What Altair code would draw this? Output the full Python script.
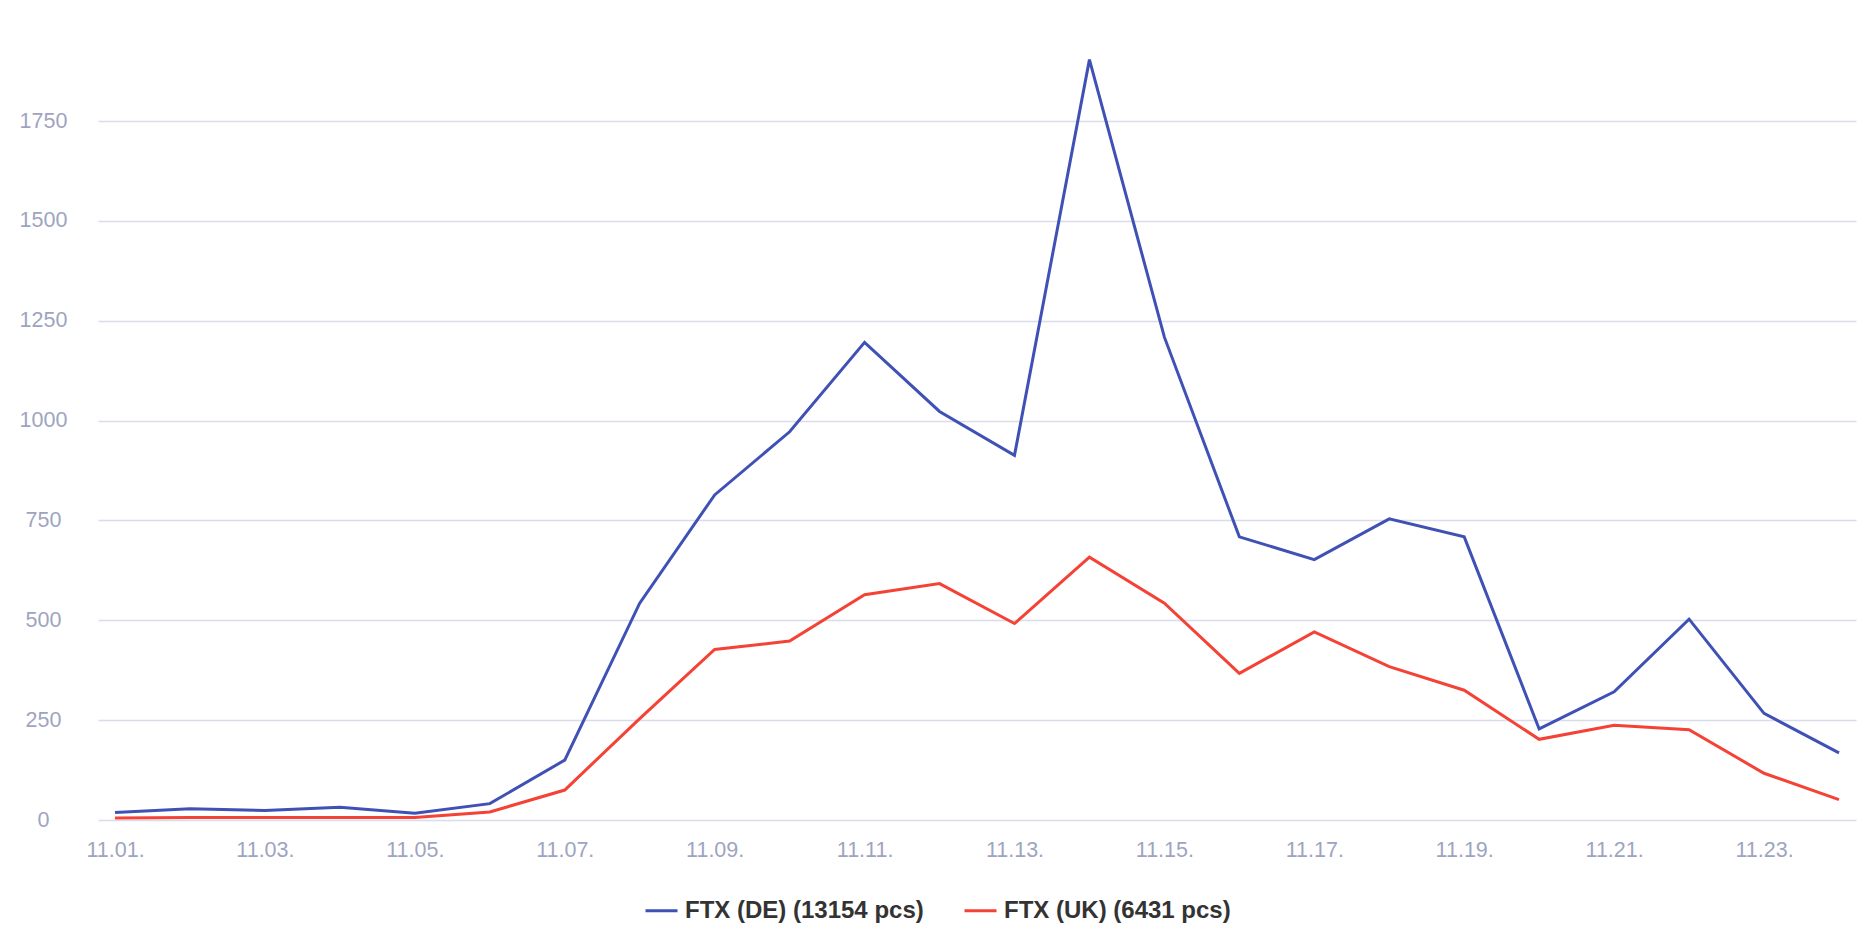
import altair as alt
import pandas as pd

days = ["11.01.", "11.02.", "11.03.", "11.04.", "11.05.", "11.06.", "11.07.", "11.08.",
        "11.09.", "11.10.", "11.11.", "11.12.", "11.13.", "11.14.", "11.15.", "11.16.",
        "11.17.", "11.18.", "11.19.", "11.20.", "11.21.", "11.22.", "11.23.", "11.24."]
de_values = [19, 28, 24, 32, 17, 41, 150, 543, 814, 972, 1196, 1023, 913, 1904, 1209, 709,
             652, 754, 709, 228, 321, 503, 267, 168]
uk_values = [5, 6, 6, 6, 6, 20, 75, 254, 427, 448, 564, 592, 492, 658, 543, 367,
             471, 384, 325, 202, 237, 226, 117, 51]
series_names = ["FTX (DE) (13154 pcs)", "FTX (UK) (6431 pcs)"]
series_colors = ["#3f51b5", "#f44336"]
x_tick_labels = days[::2]
y_ticks = [0, 250, 500, 750, 1000, 1250, 1500, 1750]

rows = []
for i, d in enumerate(days):
    rows.append({"day": d, "series": series_names[0], "value": de_values[i], "order": 0})
    rows.append({"day": d, "series": series_names[1], "value": uk_values[i], "order": 1})
df = pd.DataFrame(rows)

FONT = "Liberation Sans"
LABEL = "#9ea4bf"
GRID = "#d9dcea"

chart = alt.Chart(df).mark_line(strokeWidth=3).encode(
    x=alt.X("day:O", sort=days,
            scale=alt.Scale(type="point", padding=0.227),
            axis=alt.Axis(title=None, values=x_tick_labels, labelAngle=0, ticks=False,
                          tickSize=0, domain=False, grid=False, labelPadding=19,
                          labelFontSize=21.5, labelColor=LABEL, labelFont=FONT)),
    y=alt.Y("value:Q", scale=alt.Scale(domain=[0, 1908], nice=False),
            axis=alt.Axis(title=None, values=y_ticks, format="d", ticks=False, tickSize=0,
                          domain=False, grid=True, gridColor=GRID, gridWidth=1.3,
                          labelAlign="center", labelBaseline="middle", labelPadding=55,
                          labelFontSize=21.5, labelColor=LABEL, labelFont=FONT)),
    color=alt.Color("series:N",
                    scale=alt.Scale(domain=series_names, range=series_colors),
                    legend=alt.Legend(title=None, orient="none", legendX=546, legendY=835,
                                      direction="horizontal", symbolType="stroke",
                                      symbolSize=1024, symbolStrokeWidth=3,
                                      labelFont=FONT, labelFontSize=24, labelFontWeight="bold",
                                      labelColor="#333333", labelOffset=6, labelLimit=500,
                                      columnPadding=34)),
    order=alt.Order("order:Q"),
).properties(
    width=1758, height=762,
    background="white",
    autosize=alt.AutoSizeParams(type="none"),
    padding={"left": 90, "top": 50, "right": 12, "bottom": 120},
).configure_view(stroke=None)

chart.save("out.html", embed_options={"renderer": "svg", "actions": False})
